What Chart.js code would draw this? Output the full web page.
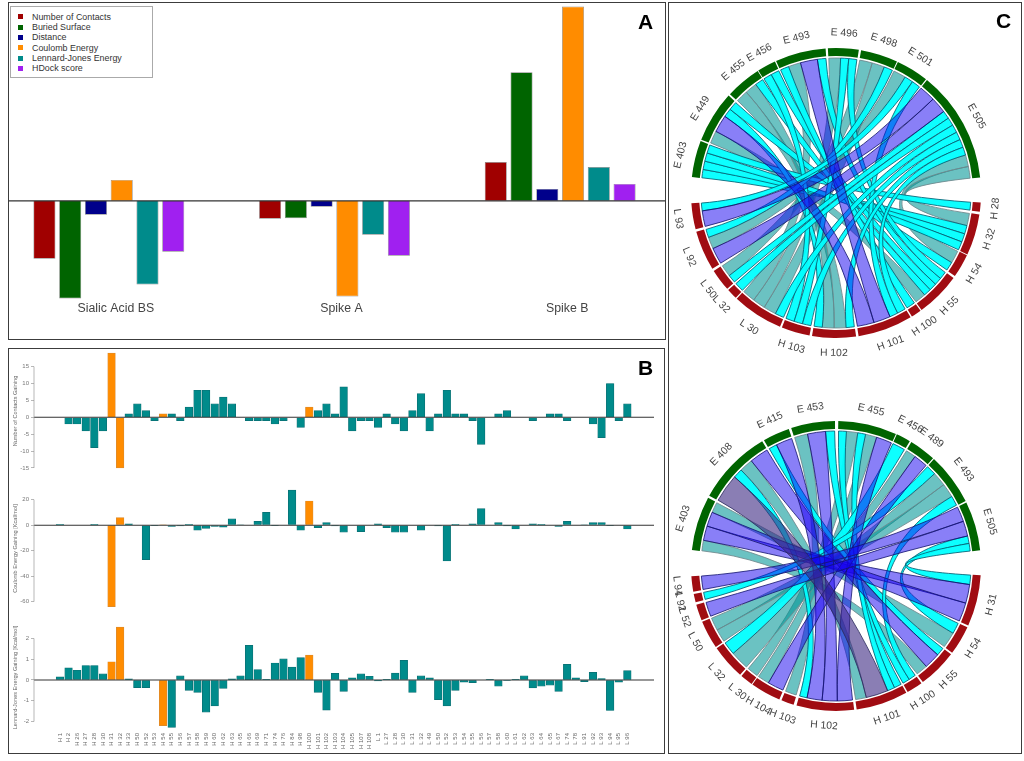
<!DOCTYPE html>
<html><head><meta charset="utf-8">
<script src="https://cdn.jsdelivr.net/npm/chart.js@4"></script>
<style>
html,body{margin:0;padding:0;background:#fff;width:1024px;height:761px;overflow:hidden;font-family:"Liberation Sans",Arial,sans-serif}
canvas{position:absolute;display:block;filter:blur(.4px)}
.panel{position:absolute;box-sizing:border-box;border:1.5px solid #3c3c3c;pointer-events:none;z-index:5}
.tag{position:absolute;font:bold 21px "Liberation Sans",sans-serif;color:#000;z-index:6}
#clipA{position:absolute;left:9px;top:4px;width:656px;height:335px;overflow:hidden}
#legend{position:absolute;left:10px;top:5.5px;width:143px;height:72.5px;box-sizing:border-box;border:1px solid #aaa;background:#fff;z-index:4;padding-top:5px}
#legend div{height:10.4px;line-height:10.4px;font-size:8.9px;color:#333;padding-left:21px;position:relative;white-space:nowrap}
#legend i{position:absolute;left:7px;top:2.8px;width:5px;height:5px}
</style></head><body>
<div id="clipA"><canvas id="a" width="677" height="335" style="left:-13px;top:0"></canvas></div>
<div id="legend"></div>
<canvas id="b1" width="651" height="130" style="left:9px;top:346px"></canvas>
<canvas id="b2" width="651" height="131" style="left:9px;top:483px"></canvas>
<canvas id="b3" width="651" height="133" style="left:9px;top:620px"></canvas>
<canvas id="c1" width="350" height="350" style="left:660.7px;top:18px"></canvas>
<canvas id="c2" width="350" height="350" style="left:661px;top:391.3px"></canvas>
<div class="panel" style="left:8px;top:2px;width:658px;height:338px"></div>
<div class="panel" style="left:8px;top:348px;width:657px;height:406px"></div>
<div class="panel" style="left:668px;top:2px;width:354px;height:752px"></div>
<div class="tag" style="left:638px;top:10px">A</div>
<div class="tag" style="left:638px;top:356px">B</div>
<div class="tag" style="left:996px;top:9px">C</div>
<script>
/* ---------- Panel A ---------- */
const groupNames = ["Sialic Acid BS", "Spike A", "Spike B"];
const metricNames = ["Number of Contacts", "Buried Surface", "Distance", "Coulomb Energy", "Lennard-Jones Energy", "HDock score"];
const metricColors = ["#a00000", "#006400", "#00008b", "#ff8c00", "#008b8b", "#a020f0"];
const numberOfContacts = [-0.58, -0.18, 0.39];
const buriedSurface = [-0.98, -0.175, 1.29];
const distanceScore = [-0.14, -0.06, 0.12];
const coulombScore = [0.21, -0.96, 1.95];
const lennardJonesScore = [-0.84, -0.34, 0.34];
const hdockScore = [-0.51, -0.55, 0.17];

/* ---------- Panel B ---------- */
const residues = ["H 1","H 2","H 26","H 27","H 28","H 30","H 31","H 32","H 33","H 50","H 52","H 53","H 54","H 55","H 56","H 57","H 58","H 59","H 60","H 62","H 63","H 65","H 66","H 69","H 71","H 74","H 76","H 84","H 98","H 100","H 101","H 102","H 103","H 104","H 105","H 107","H 108","L 1","L 27","L 28","L 30","L 31","L 32","L 49","L 50","L 52","L 53","L 54","L 55","L 56","L 57","L 58","L 60","L 61","L 62","L 63","L 64","L 65","L 67","L 74","L 78","L 91","L 92","L 93","L 94","L 95","L 96"];
const hotspots = ["H 31","H 32","H 54","H 100"];
const contactsGain = [0,-2,-2,-4,-9,-4,19,-15,1,4,2,-1,1,1,-1,3,8,8,4,6,4,0,-1,-1,-1,-2,-1,0,-3,3,2,4,1,9,-4,-1,-1,-3,1,-2,-4,2,7,-4,1,8,1,1,-1,-8,0,1,2,0,0,-1,0,1,1,-1,0,0,-2,-6,10,-1,4];
const coulombGain = [0.5,0,0,0,0.5,0,-64,6,1,0,-27,-0.3,0.3,-1,-0.5,0.5,-4,-2.5,-1,-1.5,5,0.3,0,3,10,-0.3,0,27.5,-4,19,-2,2,-0.5,-5.5,0,-5,0,1,-2,-5.5,-5.5,0,-4,0,-0.5,-28,0.5,0,1,13,0,2,-0.5,-3,0,1,0.5,0,-1,3,0,0.3,2,2,-0.3,0,-3];
const ljGain = [0.15,0.58,0.47,0.7,0.7,0.3,0.88,2.55,0.05,-0.37,-0.37,0,-2.2,-2.28,0.2,-0.5,-0.6,-1.55,-1.25,-0.4,0.05,0.2,1.67,0.5,0.03,0.82,1.02,0.62,1.08,1.2,-0.6,-1.45,0.32,-0.55,0.1,0.3,0.18,-0.05,0.03,0.33,0.95,-0.6,0.2,0.1,-0.95,-1.25,-0.5,-0.1,-0.13,0,0.03,-0.3,-0.02,0.03,0.2,-0.38,-0.3,-0.25,-0.55,0.75,0.1,-0.08,0.37,0.07,-1.47,-0.1,0.45];
const contactTicks = [-15,-10,-5,0,5,10,15];
const coulombTicks = [-60,-40,-20,0,20];
const ljTicks = [-2,-1,0,1,2];

/* ---------- Panel C: ring spans (degrees) and the gap after each one ---------- */
const topLabels = ["E 403","E 449","E 455","E 456","E 493","E 496","E 498","E 501","E 505","H 28","H 32","H 54","H 55","H 100","H 101","H 102","H 103","L 30","L 32","L 50","L 92","L 93"];
const topSpans  = [14.7,20.6,14.3,7.5,20.3,12.3,14.9,13.1,45,3.7,16.5,9.5,18,4.1,22,17.5,11.4,20.5,4.3,8.9,16,10.4];
const topGaps   = [0.6,0.8,0.3,0.5,0.9,0.9,0.4,0.5,9.9,1.1,0.4,0.9,0.5,0.6,1,1,0.8,0.5,0.6,1,1,10.4];
const topLinks = [
 ["E 403","H 32","c"],["E 403","H 32","c"],["E 403","H 32","c"],["E 403","H 28","c"],
 ["E 449","H 55","t"],["E 449","H 101","p"],["E 449","H 102","c"],["E 449","H 54","c"],
 ["E 455","H 102","t"],["E 455","H 102","t"],["E 455","H 55","c"],
 ["E 456","H 103","c"],["E 456","H 55","c"],
 ["E 493","H 100","c"],["E 493","L 30","t"],["E 493","H 101","p"],["E 493","H 55","c"],
 ["E 496","L 30","t"],["E 496","H 103","c"],["E 496","H 55","c"],
 ["E 498","L 50","t"],["E 498","L 30","t"],["E 498","L 92","c"],
 ["E 501","L 92","t"],["E 501","L 93","c"],["E 501","H 101","c"],
 ["E 505","L 93","p"],["E 505","L 92","p"],["E 505","L 50","c"],["E 505","L 32","c"],["E 505","L 30","c"],["E 505","H 103","c"],["E 505","H 102","c"],["E 505","H 101","c"],["E 505","H 54","t"],["E 505","H 32","t"]
];
const lowLabels = ["E 403","E 408","E 415","E 453","E 455","E 456","E 489","E 493","E 505","H 31","H 54","H 55","H 100","H 101","H 102","H 103","H 104","L 30","L 32","L 50","L 52","L 92","L 94"];
const lowSpans  = [21.8,30.4,10.8,17.6,23.5,5.8,10.7,20.9,19.8,20.5,11.8,15.7,6.5,20.8,23,5.1,12.2,5.1,14,11.4,6.5,3.4,6.1];
const lowGaps   = [0.9,0.8,1,1.3,0.4,0.7,0.5,0.6,9.9,0.8,0.7,0.7,0.6,1,1.2,0.9,0.4,0.7,0.6,0.6,1,0.9,10.4];
const lowLinks = [
 ["E 403","H 55","t"],["E 403","H 31","p"],["E 403","H 31","p"],["E 403","H 54","t"],
 ["E 408","H 101","g"],["E 408","H 102","c"],["E 408","H 101","t"],["E 408","H 55","p"],
 ["E 415","H 55","c"],["E 415","H 102","p"],
 ["E 453","H 103","t"],["E 453","H 102","p"],["E 453","H 100","c"],
 ["E 455","H 101","c"],["E 455","L 30","t"],["E 455","H 101","c"],["E 455","H 104","t"],["E 455","H 102","p"],
 ["E 456","L 32","c"],
 ["E 489","L 32","t"],["E 489","H 104","p"],
 ["E 493","L 92","c"],["E 493","L 50","t"],["E 493","L 50","t"],["E 493","H 100","c"],
 ["E 505","L 94","p"],["E 505","L 52","p"],["E 505","H 54","c"],["E 505","H 31","c"]
];
const linkWeight = {c:1, t:1.45, p:2, g:3};
const linkFill = {t:"rgba(0,150,150,.58)", c:"rgba(0,255,255,.95)", p:"rgba(20,0,240,.5)", g:"rgba(60,40,130,.6)"};
const linkLine = {t:"rgba(110,135,140,.95)", c:"rgba(5,95,115,.95)", p:"rgba(20,20,110,.9)", g:"rgba(40,40,90,.9)"};

/* ---------- helpers ---------- */
const zeroLine = {
  id:"zeroLine",
  afterDatasetsDraw(ch){
    const y = ch.scales.y.getPixelForValue(0), a = ch.chartArea, c = ch.ctx;
    c.save(); c.strokeStyle = "#333"; c.lineWidth = 1.1;
    c.beginPath(); c.moveTo(a.left, y); c.lineTo(a.right, y); c.stroke(); c.restore();
  }
};
const yAxisLine = {
  id:"yAxisLine",
  afterDraw(ch){
    const s = ch.scales.y, t = s.ticks, c = ch.ctx;
    c.save(); c.strokeStyle = "#999"; c.lineWidth = 0.7;
    c.beginPath(); c.moveTo(s.right, s.getPixelForValue(t[0].value));
    c.lineTo(s.right, s.getPixelForValue(t[t.length-1].value)); c.stroke(); c.restore();
  }
};

/* Panel A chart */
new Chart(document.getElementById("a"), {
  type:"bar",
  data:{labels:groupNames, datasets:[numberOfContacts,buriedSurface,distanceScore,coulombScore,lennardJonesScore,hdockScore].map((d,i)=>({
    label:metricNames[i], data:d, backgroundColor:metricColors[i], borderColor:"rgba(30,30,30,.55)", borderWidth:0.7,
    categoryPercentage:0.685, barPercentage:0.855
  }))},
  options:{responsive:false, animation:false,
    layout:{padding:{top:1,left:0,right:0,bottom:0}},
    plugins:{legend:{display:false},tooltip:{enabled:false}},
    scales:{
      x:{grid:{display:false,drawTicks:false},border:{display:false},
         afterFit(s){s.height=39;},
         ticks:{autoSkip:false,maxRotation:0,font:{size:12.3,family:"Liberation Sans"},color:"#444",padding:1,labelOffset:7}},
      y:{display:false,min:-0.995,max:1.965}
    }},
  plugins:[zeroLine]
});
const lg = document.getElementById("legend");
metricNames.forEach((n,i)=>{const d=document.createElement("div");d.textContent=n;const k=document.createElement("i");k.style.background=metricColors[i];d.appendChild(k);lg.appendChild(d);});

/* Panel B charts */
function barRow(id, values, ticks, title, lo, hi, showX){
  const data = values.map((v,i)=>({x:i,y:v}));
  return new Chart(document.getElementById(id), {
    type:"bar",
    data:{datasets:[{data,
      backgroundColor:residues.map(r=>hotspots.includes(r)?"#ff8c00":"#008b8b"),
      borderColor:residues.map(r=>hotspots.includes(r)?"#d98a30":"#0a6e72"),
      borderWidth:0.7, barThickness:7.6}]},
    options:{responsive:false, animation:false,
      layout:{padding:{top:6,bottom:showX?0:6,left:0,right:6}},
      plugins:{legend:{display:false},tooltip:{enabled:false}},
      scales:{
        x:{type:"linear",min:-3.02,max:69.1,display:showX,offset:false,
           grid:{display:false,drawTicks:false},border:{display:false},
           afterBuildTicks(s){s.ticks=residues.map((_,i)=>({value:i}));},
           afterFit(s){s.height=showX?24:0;},
           ticks:{autoSkip:false,minRotation:90,maxRotation:90,padding:4,font:{size:6,family:"Liberation Sans"},color:"#666",
                  callback:v=>residues[v]}},
        y:{min:lo,max:hi,
           afterBuildTicks(s){s.ticks=ticks.map(v=>({value:v}));},
           afterFit(s){s.width=25;},
           border:{display:false},
           grid:{drawOnChartArea:false,drawTicks:true,tickLength:3,color:"#999",lineWidth:0.7},
           title:{display:true,text:title,font:{size:5.6,family:"Liberation Sans"},color:"#666",padding:{top:3,bottom:0}},
           ticks:{padding:2,font:{size:6,family:"Liberation Sans"},color:"#777"}}
      }},
    plugins:[zeroLine,yAxisLine]
  });
}
barRow("b1",contactsGain,contactTicks,"Number of Contacts Gaining",-15.6,19.32,false);
barRow("b2",coulombGain,coulombTicks,"Coulomb Energy Gaining [Kcal/mol]",-65,28.4,false);
barRow("b3",ljGain,ljTicks,"Lennard-Jones Energy Gaining [Kcal/mol]",-2.36,2.6,true);

/* Panel C chord charts: ring drawn as a doughnut, ribbons placed from its arcs */
function chord(id, labels, spans, gaps, links){
  const ring = spans.flatMap((s,i)=>[s,gaps[i]]);
  const colors = labels.flatMap(l=>[l[0]==="E"?"#006400":"#a00c12","rgba(0,0,0,0)"]);
  const names = labels.flatMap(l=>[l,""]);
  const ribbons = {
    id:"ribbons",
    beforeDatasetsDraw(ch){
      const arcs = ch.getDatasetMeta(0).data, c = ch.ctx;
      const arcOf = n => arcs[labels.indexOf(n)*2];
      const cx = arcs[0].x, cy = arcs[0].y, r = arcs[0].innerRadius - 2;
      const sum = {};
      links.forEach(l=>{sum[l[0]]=(sum[l[0]]||0)+linkWeight[l[2]];sum[l[1]]=(sum[l[1]]||0)+linkWeight[l[2]];});
      const used = {};
      const place = (n,w)=>{
        const a = arcOf(n), pad = 0.003, span = a.endAngle-a.startAngle-2*pad;
        const s = a.startAngle+pad+span*(used[n]||0)/sum[n];
        used[n]=(used[n]||0)+w;
        return [s, a.startAngle+pad+span*used[n]/sum[n]];
      };
      /* E ends go in listed order, far ends by falling source so ribbons fan out */
      const ends = links.map(l=>({l,a:place(l[0],linkWeight[l[2]])}));
      ends.slice().map((e,i)=>({e,i}))
        .sort((p,q)=>labels.indexOf(q.e.l[0])-labels.indexOf(p.e.l[0])||p.i-q.i)
        .forEach(({e})=>{e.b=place(e.l[1],linkWeight[e.l[2]]);});
      const pt = (t,k=1)=>[cx+k*r*Math.cos(t),cy+k*r*Math.sin(t)];
      const pull = 0.36;
      const sweep = (t0,t1)=>{
        const p1=pt(t0,pull), p2=pt(t1,pull), q=pt(t1);
        c.bezierCurveTo(p1[0],p1[1],p2[0],p2[1],q[0],q[1]);
      };
      ["t","c","p","g"].forEach(kind=>{
        ends.filter(e=>e.l[2]===kind).forEach(e=>{
          const [a1,a2]=e.a,[b1,b2]=e.b;
          c.beginPath();
          c.arc(cx,cy,r,a1,a2);
          sweep(a2,b1);
          c.arc(cx,cy,r,b1,b2);
          sweep(b2,a1);
          c.closePath();
          c.fillStyle=linkFill[kind]; c.fill();
          c.strokeStyle=linkLine[kind]; c.lineWidth=0.9; c.stroke();
        });
      });
    },
    afterDatasetsDraw(ch){
      const arcs = ch.getDatasetMeta(0).data, c = ch.ctx;
      c.save(); c.font='10.4px "Liberation Sans"'; c.fillStyle="#444"; c.textAlign="center"; c.textBaseline="middle";
      labels.forEach((n,i)=>{
        const a = arcs[i*2], m=(a.startAngle+a.endAngle)/2, deg=((m+Math.PI/2)*180/Math.PI+360)%360;
        const R = a.outerRadius+15;
        c.save(); c.translate(a.x+R*Math.cos(m),a.y+R*Math.sin(m));
        c.rotate((deg>90&&deg<270?deg-180:deg)*Math.PI/180);
        c.fillText(n,0,0); c.restore();
      });
      c.restore();
    }
  };
  return new Chart(document.getElementById(id),{
    type:"doughnut",
    data:{labels:names,datasets:[{data:ring,backgroundColor:colors,borderWidth:0}]},
    options:{responsive:false,animation:false,rotation:-83.7,cutout:137,
      layout:{padding:30},
      plugins:{legend:{display:false},tooltip:{enabled:false}}},
    plugins:[ribbons]
  });
}
chord("c1",topLabels,topSpans,topGaps,topLinks);
chord("c2",lowLabels,lowSpans,lowGaps,lowLinks);
</script>
</body></html>
